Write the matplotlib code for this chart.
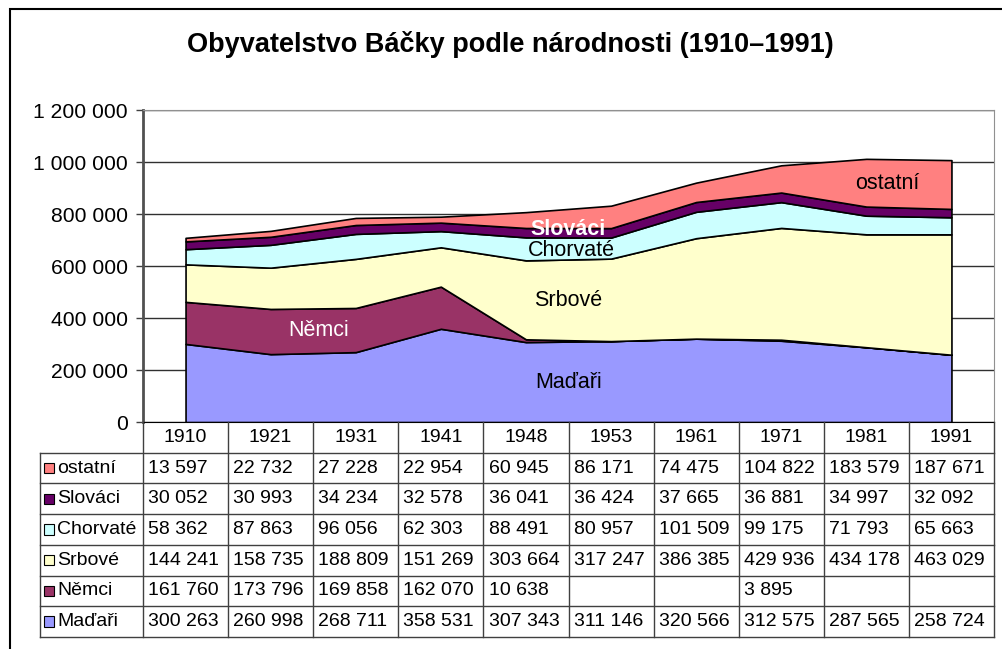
import numpy as np
import matplotlib
matplotlib.use("Agg")
import matplotlib.pyplot as plt
from matplotlib.patches import Rectangle
from matplotlib.ticker import FuncFormatter

plt.rcParams["font.family"] = ["Liberation Sans", "DejaVu Sans"]

# Census years and population by nationality
years = ["1910", "1921", "1931", "1941", "1948", "1953", "1961", "1971", "1981", "1991"]
madari = [300263, 260998, 268711, 358531, 307343, 311146, 320566, 312575, 287565, 258724]
nemci = [161760, 173796, 169858, 162070, 10638, np.nan, np.nan, 3895, np.nan, np.nan]
srbove = [144241, 158735, 188809, 151269, 303664, 317247, 386385, 429936, 434178, 463029]
chorvate = [58362, 87863, 96056, 62303, 88491, 80957, 101509, 99175, 71793, 65663]
slovaci = [30052, 30993, 34234, 32578, 36041, 36424, 37665, 36881, 34997, 32092]
ostatni = [13597, 22732, 27228, 22954, 60945, 86171, 74475, 104822, 183579, 187671]

names = ["Maďaři", "Němci", "Srbové", "Chorvaté", "Slováci", "ostatní"]
colors = ["#9999FF", "#993366", "#FFFFCC", "#CCFFFF", "#660066", "#FF8080"]
series = [madari, nemci, srbove, chorvate, slovaci, ostatni]


def fmt(v):
    return f"{int(v):,}".replace(",", " ")


W, H = 1002, 649
fig = plt.figure(figsize=(W / 100, H / 100), dpi=100)

# outer chart frame
fig.patches.append(Rectangle((10 / W, -0.1), 1.2, 1.1 - 9 / H, transform=fig.transFigure,
                             fill=False, edgecolor="black", linewidth=1.5))

fig.text(0.509, 1 - 45 / H, "Obyvatelstvo Báčky podle národnosti (1910–1991)",
         ha="center", va="center", fontsize=19.5, fontweight="bold")

left, right, top, bottom = 143, 994, 110, 422
ax = fig.add_axes([left / W, 1 - bottom / H, (right - left) / W, (bottom - top) / H])

x = np.arange(len(years)) + 0.5
data = [np.nan_to_num(np.array(s, dtype=float)) for s in series]
ax.stackplot(x, *data, colors=colors, edgecolor="black", linewidth=1.2, zorder=3)

ax.set_xlim(0, len(years))
ax.set_ylim(0, 1200000)
ax.set_yticks(np.arange(0, 1200001, 200000))
ax.yaxis.set_major_formatter(FuncFormatter(lambda v, p: fmt(v)))
ax.tick_params(axis="y", length=5, width=1, color="#404040", labelsize=15.2, pad=6)
ax.set_xticks([])
ax.grid(axis="y", color="#303030", linewidth=1, zorder=1)
for side in ["top", "right"]:
    ax.spines[side].set_color("#909090")
ax.spines["left"].set_color("#505050")
ax.spines["left"].set_linewidth(2)
ax.spines["bottom"].set_color("black")

# labels inside the areas
lab = dict(ha="center", va="center", fontsize=15.5, zorder=5)
ax.text(5.0, 150000, "Maďaři", color="black", **lab)
ax.text(2.06, 350000, "Němci", color="white", **lab)
ax.text(5.0, 469000, "Srbové", color="black", **lab)
ax.text(5.03, 661000, "Chorvaté", color="black", **lab)
ax.text(5.0, 742000, "Slováci", color="white", fontweight="bold", **lab)
ax.text(8.75, 919000, "ostatní", color="black", **lab)

# data table under the chart
tbot = 637
nrows = len(names) + 1
tax = fig.add_axes([left / W, 1 - tbot / H, (right - left) / W, (tbot - bottom) / H])
tax.set_xlim(0, len(years))
tax.set_ylim(nrows, 0)
tax.axis("off")
lc = "#404040"
lab_x0 = (40 - left) / ((right - left) / len(years))
tfs = 14

for i, yr in enumerate(years):
    tax.text(i + 0.5, 0.5, yr, ha="center", va="center", fontsize=tfs)
for c in range(len(years) + 1):
    tax.plot([c, c], [0, nrows], color=lc, lw=1, clip_on=False)
tax.plot([lab_x0, lab_x0], [1, nrows], color=lc, lw=1, clip_on=False)
for r in range(1, nrows + 1):
    tax.plot([lab_x0, len(years)], [r, r], color=lc, lw=1, clip_on=False)

rows = list(zip(names, colors, series))[::-1]
for r, (name, col, vals) in enumerate(rows, start=1):
    tax.add_patch(Rectangle((lab_x0 + 0.05, r + 0.33), 0.115, 0.34, facecolor=col,
                            edgecolor="black", lw=0.8, clip_on=False))
    tax.text(lab_x0 + 0.2, r + 0.5, name, ha="left", va="center", fontsize=tfs, clip_on=False)
    for i, v in enumerate(vals):
        if np.isnan(v):
            continue
        tax.text(i + 0.06, r + 0.5, fmt(v), ha="left", va="center", fontsize=tfs)

fig.savefig("out.png", dpi=100)
